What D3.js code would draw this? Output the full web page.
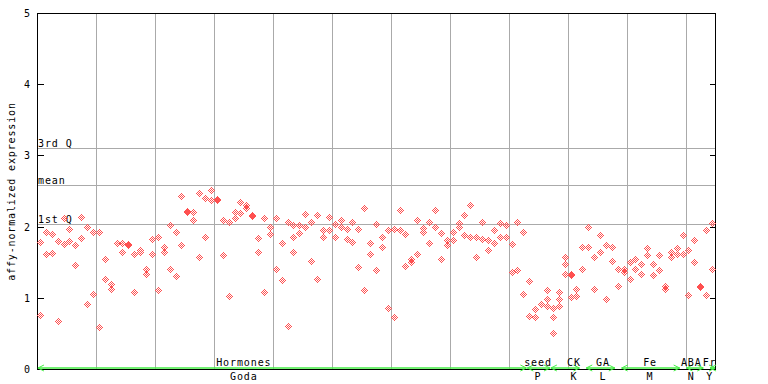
<!DOCTYPE html>
<html><head><meta charset="utf-8">
<script src="https://cdn.jsdelivr.net/npm/d3@7"></script>
<style>
body{margin:0;background:#fff}
svg{display:block}
text{font-family:"DejaVu Sans Mono",monospace;font-size:10px;fill:#000}
</style>
</head><body>
<svg id="c" width="768" height="384"></svg>
<script>
// ---- data ----
const rep1 = [1.79,1.92,1.90,1.80,2.12,1.96,1.74,2.13,1.99,1.92,
  1.92,1.55,1.19,1.77,1.77,1.76,1.61,1.67,1.41,1.82,
  1.85,1.72,2.02,1.92,2.43,2.22,2.20,2.47,2.40,2.52,
  2.39,2.09,2.06,2.21,2.34,2.31,2.16,1.84,2.12,1.99,
  2.12,1.77,2.06,2.02,2.02,2.17,2.06,2.16,1.95,2.13,
  2.03,2.09,1.96,2.07,1.96,2.26,1.77,2.03,1.86,1.95,
  1.96,2.24,1.89,1.55,2.09,1.98,2.07,2.23,1.91,1.81,
  1.93,2.05,2.16,2.30,1.85,2.07,1.81,1.95,2.05,2.02,
  1.75,2.07,1.92,1.23,0.84,0.91,1.11,0.85,1.08,1.57,
  1.34,1.13,1.72,2.00,1.58,1.88,1.74,1.72,1.40,1.40,
  1.50,1.55,1.47,1.70,1.48,1.60,1.16,1.65,1.70,1.88,
  1.67,1.81,1.17,1.95,2.05];
const rep2 = [0.76,1.61,1.63,0.67,1.75,1.80,1.46,1.84,0.91,1.05,
  0.59,1.27,1.12,null,1.64,1.745,1.08,1.64,1.33,1.61,
  1.11,1.64,1.40,1.30,1.74,2.205,2.09,1.57,1.86,2.37,
  2.375,1.60,1.02,2.12,2.19,2.26,2.145,1.65,1.08,1.89,
  1.40,1.25,0.61,1.85,1.91,2.00,1.51,1.26,1.85,1.95,
  1.86,1.99,1.82,1.78,1.43,1.11,1.62,1.39,1.71,0.85,
  0.73,1.95,1.44,1.50,1.61,1.92,1.77,2.00,1.55,1.74,
  1.81,1.99,1.88,1.86,1.57,1.82,1.67,1.77,1.86,1.86,
  1.36,1.39,1.06,0.74,0.73,null,0.99,0.73,0.98,1.48,
  1.325,1.02,1.41,1.72,1.12,1.64,0.99,1.51,1.16,1.36,
  1.26,1.41,1.33,1.60,1.32,1.39,1.13,1.57,1.62,1.62,
  1.04,1.50,1.155,1.04,1.41];
const rep3 = [null,null,null,null,null,null,null,null,null,null,
  null,null,null,null,null,null,null,null,null,null,
  null,null,null,null,null,null,null,null,null,null,
  null,null,null,null,null,null,null,null,null,null,
  null,null,null,1.64,null,null,null,null,null,null,
  null,null,null,null,null,null,null,null,null,null,
  null,null,null,null,null,null,null,null,null,null,
  null,null,null,null,null,null,null,null,null,null,
  null,null,null,null,null,null,0.89,0.50,0.89,1.34,
  1.01,null,null,null,null,null,null,null,null,null,
  null,null,null,null,null,null,null,null,null,null,
  null,null,null,null,null];
const nSamples = 115;
const yTicks = [0,1,2,3,4,5];
const refLabels = ["3rd Q","mean","1st Q"];
const refValues = [3.10, 2.58, 2.04];
const groupTop = ["Hormones","seed","CK","GA","Fe","ABA","Fr"];
const groupBottom = ["Goda","P","K","L","M","N","Y"];
const groupStart = [0,83,87,93,99,110,114];
const groupEnd = [82,86,91,97,108,112,114];
const groupLabelAt = [34.5,84.4,90.5,95.4,103.4,110.4,113.5];
const yTitle = "affy-normalized expression";

// ---- drawing ----
const svg = d3.select("#c");
const x = d3.scaleLinear().domain([0, nSamples]).range([37.5, 715.5]);
const y = d3.scaleLinear().domain([0, 5]).range([369.5, 13.5]);
const px = v => Math.floor(v) + 0.5;
const RED = "#ff5050", GRID = "#aaaaaa", GREEN = "#44ee44";

// vertical grid every 10 samples
svg.append("g").attr("stroke", GRID).attr("shape-rendering","crispEdges")
  .selectAll("line").data(d3.range(10, nSamples, 10)).join("line")
  .attr("x1", d => px(x(d))).attr("x2", d => px(x(d)))
  .attr("y1", y(5)).attr("y2", y(0));

// reference lines
svg.append("g").attr("stroke", GRID).attr("shape-rendering","crispEdges")
  .selectAll("line").data(refValues).join("line")
  .attr("x1", x(0)).attr("x2", x(nSamples))
  .attr("y1", d => px(y(d))).attr("y2", d => px(y(d)));
svg.append("g").selectAll("text").data(refValues).join("text")
  .attr("x", x(0) + 0.5).attr("y", d => px(y(d)) - 2)
  .style("letter-spacing","0.9px")
  .text((d,i) => refLabels[i]);

// frame
svg.append("rect").attr("x", x(0)).attr("y", y(5))
  .attr("width", x(nSamples) - x(0)).attr("height", y(0) - y(5))
  .attr("fill","none").attr("stroke","#000").attr("shape-rendering","crispEdges");

// left axis
const la = svg.append("g").attr("transform", `translate(${x(0)},0)`)
  .call(d3.axisLeft(y).tickValues(yTicks).tickFormat(d3.format("d"))
    .tickSizeInner(-6).tickSizeOuter(0).tickPadding(7.5).offset(0));
la.select(".domain").remove();
la.selectAll(".tick").attr("transform", d => `translate(0,${px(y(d))})`);
la.selectAll(".tick line").attr("stroke","#000").attr("shape-rendering","crispEdges");
la.selectAll(".tick text").attr("font-family","DejaVu Sans Mono").attr("font-size",10).attr("fill","#000");

// right axis ticks
const ra = svg.append("g").attr("transform", `translate(${x(nSamples)},0)`)
  .call(d3.axisRight(y).tickValues(yTicks).tickFormat("")
    .tickSizeInner(-6).tickSizeOuter(0).offset(0));
ra.select(".domain").remove();
ra.selectAll(".tick").attr("transform", d => `translate(0,${px(y(d))})`);
ra.selectAll(".tick line").attr("stroke","#000").attr("shape-rendering","crispEdges");

// y title
svg.append("text").attr("transform", `translate(15,${(y(0)+y(5))/2}) rotate(-90)`)
  .attr("text-anchor","middle").style("letter-spacing","0.85px").text(yTitle);

// markers: checkered diamond
let mp = "";
for (let dy = -3; dy <= 3; dy++) for (let dx = -3; dx <= 3; dx++)
  if (Math.abs(dx) + Math.abs(dy) <= 3 && Math.abs(dx + dy) % 2 === 1)
    mp += `M${dx},${dy}h1v1h-1z`;
const points = [];
[rep1, rep2, rep3].forEach(rep => rep.forEach((v, i) => { if (v != null) points.push({i, v}); }));
svg.append("g").attr("fill", RED).attr("shape-rendering","crispEdges")
  .selectAll("path").data(points).join("path")
  .attr("transform", d => `translate(${Math.floor(x(d.i + 0.5))},${Math.round(y(d.v) - 0.5)})`)
  .attr("d", mp);

// group arrows
const gy = 368;
const ga = svg.append("g").attr("stroke", GREEN).attr("fill","none").attr("stroke-width",1.5);
groupStart.forEach((s, k) => {
  const x0 = x(s + 0.5) - 2.5, x1 = Math.min(x(groupEnd[k] + 0.5) + 2.5, x(nSamples));
  ga.append("line").attr("x1", x0).attr("x2", x1).attr("y1", gy).attr("y2", gy);
  ga.append("path").attr("stroke-width",1).attr("d", `M${x0+6},${gy-3}L${x0},${gy}L${x0+6},${gy+3}`);
  ga.append("path").attr("stroke-width",1).attr("d", `M${x1-6},${gy-3}L${x1},${gy}L${x1-6},${gy+3}`);
});
svg.append("g").selectAll("text").data(groupTop).join("text")
  .attr("x", (d,k) => x(groupLabelAt[k] + 0.5)).attr("y", 366)
  .attr("text-anchor","middle").style("letter-spacing","0.9px").text(d => d);
svg.append("g").selectAll("text").data(groupBottom).join("text")
  .attr("x", (d,k) => x(groupLabelAt[k] + 0.5)).attr("y", 380)
  .attr("text-anchor","middle").style("letter-spacing","0.9px").text(d => d);
</script>
</body></html>
